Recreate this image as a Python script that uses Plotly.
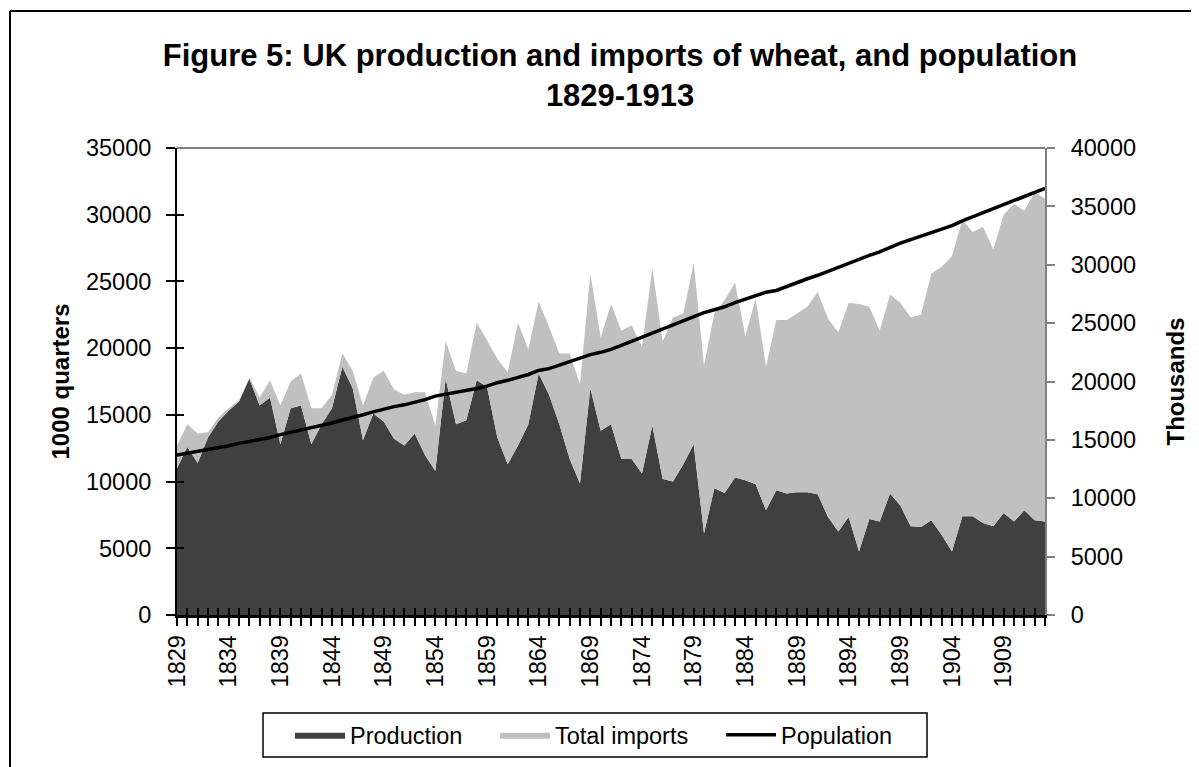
import plotly.graph_objects as go

years = list(range(1829, 1914))
production = [11000,12600,11400,13300,14500,15300,16000,17700,15700,16300,
              12800,15500,15700,12800,14300,15500,18600,17000,13100,15100,
              14500,13200,12700,13600,12000,10800,17700,14300,14600,17600,
              17100,13300,11300,12700,14300,18100,16500,14300,11700,9850,
              17000,13800,14300,11700,11700,10600,14200,10200,10000,11300,
              12800,6100,9500,9150,10300,10100,9800,7850,9350,9100,
              9200,9200,9050,7350,6250,7350,4750,7200,7000,9100,
              8200,6650,6600,7100,6000,4750,7400,7400,6900,6650,
              7650,7000,7850,7100,7000]
imports = [1700,1700,2200,400,300,200,100,100,600,1300,
           2900,2000,2400,2700,1200,1000,1000,1300,2600,2700,
           3800,3700,3800,3100,4700,3400,2800,4000,3500,4300,
           3500,5900,6900,9200,5600,5400,5100,5300,7900,7450,
           8600,7000,9000,9600,10000,9500,11800,10300,12300,11300,
           13600,12600,13100,14450,14600,10800,13900,10750,12750,13000,
           13400,13900,15150,14850,14950,16050,18550,15900,14300,14900,
           15200,15650,15900,18500,20100,22150,22200,21300,22200,20750,
           22350,23800,22450,24600,24200]
population = [13700,13850,14000,14150,14300,14500,14700,14850,15000,15200,
              15450,15650,15850,16000,16200,16450,16700,16900,17150,17400,
              17650,17850,18000,18200,18450,18750,18900,19050,19250,19400,
              19600,19900,20100,20350,20600,20950,21100,21400,21700,21950,
              22300,22500,22750,23100,23450,23800,24150,24500,24850,25200,
              25600,25900,26150,26400,26750,27050,27350,27650,27800,28150,
              28450,28800,29100,29450,29750,30100,30450,30800,31100,31500,
              31850,32150,32450,32750,33050,33350,33750,34100,34450,34750,
              35100,35450,35800,36150,36550]
year_labels = [str(y) if (y - 1829) % 5 == 0 else "" for y in years]
left_ticks = [0, 5000, 10000, 15000, 20000, 25000, 30000, 35000]
left_labels = ["0", "5000", "10000", "15000", "20000", "25000", "30000", "35000"]
right_ticks = [0, 5000, 10000, 15000, 20000, 25000, 30000, 35000, 40000]
right_labels = ["0", "5000", "10000", "15000", "20000", "25000", "30000", "35000", "40000"]

FONT = "Liberation Sans, Arial, sans-serif"
TS = 23.5

# page offset (default body margin) and plot area in page pixels
OFF = 8
PL, PR, PT, PB = 177 - OFF, 1045 - OFF, 148 - OFF, 615 - OFF
PW, PH = PR - PL, PB - PT

def px_x(x):
    return (x - OFF - PL) / PW

def px_y(y):
    return (PB - (y - OFF)) / PH

fig = go.Figure()
fig.add_trace(go.Scatter(x=years, y=production, name="Production", mode="lines",
                         stackgroup="one", line=dict(width=0, color="#404040"),
                         fillcolor="#404040", legendwidth=140))
fig.add_trace(go.Scatter(x=years, y=imports, name="Total imports", mode="lines",
                         stackgroup="one", line=dict(width=0, color="#c0c0c0"),
                         fillcolor="#c0c0c0", legendwidth=161))
fig.add_trace(go.Scatter(x=years, y=population, name="Population", mode="lines",
                         yaxis="y2", line=dict(width=3.5, color="black"),
                         legendwidth=120))

fig.update_layout(
    width=1199, height=767,
    margin=dict(l=PL, r=1199 - PR, t=PT, b=767 - PB, autoexpand=False),
    paper_bgcolor="white", plot_bgcolor="white",
    font=dict(family=FONT, size=TS, color="black"),
    title=dict(text="<b>Figure 5: UK production and imports of wheat, and population<br>1829-1913</b>",
               x=(620 - OFF) / 1199, xref="container", xanchor="center",
               y=1 - 58 / 767, yanchor="top",
               font=dict(size=31, family=FONT, color="black")),
    showlegend=True,
    legend=dict(orientation="h", x=px_x(290), xanchor="left", y=px_y(735), yanchor="middle",
                borderwidth=0, bgcolor="rgba(0,0,0,0)", itemwidth=50,
                font=dict(size=TS, family=FONT), traceorder="normal"),
    xaxis=dict(range=[1829, 1913], tickvals=years, ticktext=year_labels, tickangle=-90,
               ticks="outside", ticklen=8, tickwidth=2, tickcolor="black",
               showline=True, linecolor="black", linewidth=2.5, showgrid=False,
               zeroline=False, tickfont=dict(size=TS), automargin=False),
    xaxis2=dict(range=[1829, 1913], overlaying="x", tickvals=years, showticklabels=False,
                ticks="inside", ticklen=7, tickwidth=2, tickcolor="black",
                showline=False, showgrid=False, zeroline=False, automargin=False),
    yaxis=dict(range=[0, 35000], tickvals=left_ticks, ticktext=left_labels,
               ticks="outside", ticklen=9, ticklabelstandoff=10,
               tickwidth=2, tickcolor="black", showline=True, linecolor="black",
               linewidth=2, showgrid=False, zeroline=False, automargin=False,
               title=dict(text="<b>1000 quarters</b>", font=dict(size=24), standoff=10),
               tickfont=dict(size=TS)),
    yaxis3=dict(range=[0, 35000], overlaying="y", tickvals=left_ticks, showticklabels=False,
                ticks="inside", ticklen=7, tickwidth=2, tickcolor="black",
                showline=False, showgrid=False, zeroline=False, automargin=False),
    yaxis2=dict(range=[0, 40000], tickvals=right_ticks, ticktext=right_labels,
                overlaying="y", side="right", ticklabelstandoff=11,
                ticks="outside", ticklen=8, tickwidth=2, tickcolor="#808080",
                showline=True, linecolor="#808080", linewidth=2, showgrid=False,
                zeroline=False, tickfont=dict(size=TS), automargin=False,
                title=dict(text="<b>Thousands</b>", font=dict(size=24), standoff=32)),
)
# invisible trace to activate overlay tick axes
fig.add_trace(go.Scatter(x=[years[0]], y=[0], xaxis="x2", yaxis="y3", mode="markers",
                         marker=dict(opacity=0), showlegend=False, hoverinfo="skip"))

# top plot border (gray), legend frame and outer chart border
fig.add_shape(type="line", xref="paper", yref="paper", x0=0, x1=1, y0=1, y1=1,
              line=dict(color="#808080", width=2))
fig.add_shape(type="rect", xref="paper", yref="paper", x0=px_x(263), x1=px_x(927),
              y0=px_y(713), y1=px_y(757), line=dict(color="black", width=1.5),
              fillcolor="white", layer="above")
fig.add_shape(type="line", xref="paper", yref="paper", x0=px_x(10), x1=px_x(1210),
              y0=px_y(11), y1=px_y(11), line=dict(color="black", width=2))
fig.add_shape(type="line", xref="paper", yref="paper", x0=px_x(10), x1=px_x(10),
              y0=px_y(11), y1=px_y(780), line=dict(color="black", width=2))

fig.write_html("out.html")
